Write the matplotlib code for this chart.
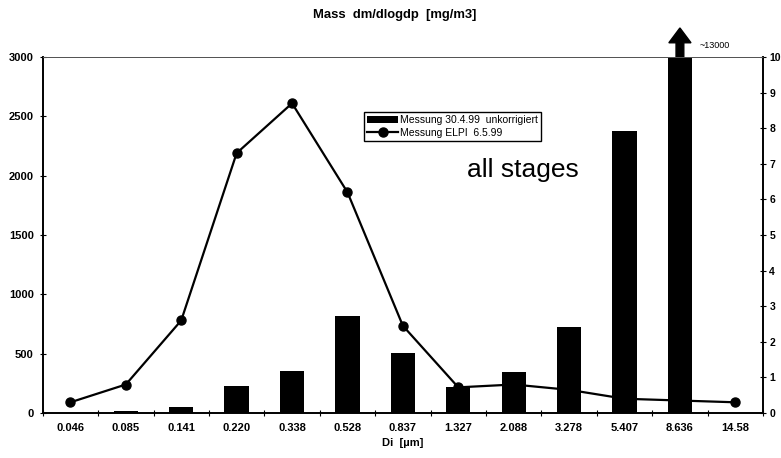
import matplotlib
matplotlib.use('Agg')
import matplotlib.pyplot as plt
import numpy as np

plt.rcParams['font.family'] = ['Liberation Sans', 'DejaVu Sans']

# stage diameters (µm)
diameters = ['0.046', '0.085', '0.141', '0.220', '0.338', '0.528', '0.837',
             '1.327', '2.088', '3.278', '5.407', '8.636', '14.58']
# bar series, left axis
mass_304 = [0, 15, 50, 230, 350, 815, 505, 215, 345, 725, 2380, 13000, 0]
# line series, right axis
mass_elpi = [0.3, 0.8, 2.6, 7.3, 8.7, 6.2, 2.45, 0.72, 0.8, 0.65, 0.4, 0.35, 0.3]

x = np.arange(len(diameters))

fig = plt.figure(figsize=(7.81, 4.58), dpi=100)
ax = fig.add_axes([0.0547, 0.0983, 0.9223, 0.7772])
ax2 = ax.twinx()

# line behind the bars
ax.set_zorder(ax2.get_zorder() + 1)
ax.patch.set_visible(False)

bars = ax.bar(x, mass_304, width=0.44, color='black',
              label='Messung 30.4.99  unkorrigiert')
line, = ax2.plot(x, mass_elpi, color='black', lw=1.6, marker='o', ms=6.5,
                 label='Messung ELPI  6.5.99')

ax.set_xlim(-0.5, len(x) - 0.5)
ax.set_ylim(0, 3000)
ax2.set_ylim(0, 10)

ax.set_yticks(np.arange(0, 3001, 500))
ax2.set_yticks(np.arange(0, 11, 1))
ax.set_xticks(x)
ax.set_xticklabels(diameters)
ax.set_xticks(np.arange(-0.5, len(x), 1), minor=True)

ax.tick_params(axis='x', which='major', length=0, pad=7)
ax.tick_params(axis='x', which='minor', length=5, direction='inout', width=0.8)
ax.tick_params(axis='y', length=5, direction='inout', width=0.8, pad=4)
ax2.tick_params(axis='y', length=5, direction='inout', width=0.8, pad=2)
for lab in ax.get_xticklabels() + ax.get_yticklabels():
    lab.set_fontsize(8)
    lab.set_fontweight('bold')
for lab in ax2.get_yticklabels():
    lab.set_fontsize(7.5)
    lab.set_fontweight('bold')

for a in (ax, ax2):
    a.spines['top'].set_color('#555555')
    a.spines['top'].set_linewidth(0.7)
    a.spines['top'].set_linestyle((0, (2, 1)))
    for s in ('left', 'right', 'bottom'):
        a.spines[s].set_linewidth(1.2)

ax.set_xlabel('Di  [µm]', fontsize=8, fontweight='bold', labelpad=4)

fig.text(0.505, 0.967, 'Mass  dm/dlogdp  [mg/m3]', ha='center', va='center',
         fontsize=9.4, fontweight='bold')

# the 8.636 bar runs far off scale
ax.arrow(11, 3000, 0, 120, width=0.14, head_width=0.4, head_length=125,
         length_includes_head=False, color='black', clip_on=False)
ax.text(11.35, 3100, '~13000', fontsize=6.5, va='center')

ax.legend(handles=[bars, line], loc='upper left', bbox_to_anchor=(0.446, 0.846),
          fontsize=7.5, frameon=True, fancybox=False, edgecolor='black',
          framealpha=1, handlelength=3, borderpad=0.3, labelspacing=0.3,
          handletextpad=0.2, borderaxespad=0)

ax.text(0.589, 0.683, 'all stages', transform=ax.transAxes, fontsize=19,
        va='center', ha='left')

fig.savefig('out.png', dpi=100)
